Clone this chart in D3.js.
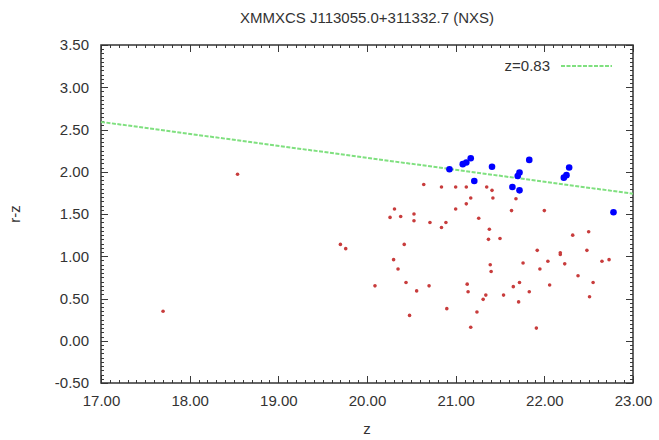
<!DOCTYPE html>
<html>
<head>
<meta charset="utf-8">
<script src="https://cdn.jsdelivr.net/npm/d3@7"></script>
<style>
  body { margin: 0; background: #fff; }
  text { font-family: "Liberation Sans", Arial, sans-serif; fill: #333; }
</style>
</head>
<body>
<div id="chart"></div>
<script>
// chart data
const title = "XMMXCS J113055.0+311332.7 (NXS)"
const xLabel = "z"
const yLabel = "r-z"
const xTicks = [17, 18, 19, 20, 21, 22, 23]
const yTicks = [-0.5, 0, 0.5, 1, 1.5, 2, 2.5, 3, 3.5]

// red sequence model line for z=0.83
const modelLabel = "z=0.83"
const modelZ = [17, 23]
const modelRZ = [2.59, 1.74]

// all galaxies in the field (red)
const fieldZ = [18.54, 17.70, 20.64, 20.84, 21.00, 21.12, 21.35, 21.41, 21.17, 21.42,
  21.68, 21.12, 21.00, 20.31, 20.26, 20.38, 20.53, 20.53, 20.71, 20.89,
  20.84, 21.26, 21.63, 22.00, 19.70, 19.76, 20.42, 20.30, 20.35, 20.09,
  20.44, 20.56, 20.70, 21.13, 21.14, 20.90, 20.48, 21.24, 21.17, 21.38,
  21.37, 21.50, 22.32, 22.50, 21.92, 22.18, 22.18, 22.48, 22.04, 22.23,
  22.65, 22.73, 21.76, 21.39, 21.40, 21.95, 22.38, 22.55, 21.72, 21.65,
  22.06, 21.83, 21.54, 21.34, 21.31, 21.71, 22.51, 21.91]
const fieldRZ = [1.97, 0.35, 1.85, 1.82, 1.82, 1.82, 1.82, 1.78, 1.69, 1.69,
  1.68, 1.62, 1.56, 1.56, 1.46, 1.47, 1.50, 1.42, 1.40, 1.40,
  1.34, 1.45, 1.54, 1.54, 1.14, 1.09, 1.14, 0.96, 0.85, 0.65,
  0.69, 0.59, 0.65, 0.67, 0.58, 0.38, 0.30, 0.34, 0.16, 1.32,
  1.20, 1.21, 1.25, 1.29, 1.07, 1.04, 1.02, 1.07, 0.94, 0.91,
  0.94, 0.96, 0.92, 0.90, 0.82, 0.85, 0.77, 0.69, 0.69, 0.64,
  0.66, 0.58, 0.54, 0.54, 0.49, 0.46, 0.52, 0.15]

// selected members (blue)
const memberZ = [20.93, 21.08, 21.12, 21.17, 21.21, 21.41, 21.83, 21.70, 21.72, 21.64,
  21.72, 22.22, 22.25, 22.28, 22.78]
const memberRZ = [2.03, 2.09, 2.11, 2.16, 1.89, 2.06, 2.14, 1.95, 1.99, 1.82,
  1.78, 1.93, 1.96, 2.05, 1.52]

const width = 659, height = 440
const margin = { top: 45, right: 26, bottom: 57, left: 101 }

const svg = d3.select("#chart").append("svg")
  .attr("width", width)
  .attr("height", height)

const x = d3.scaleLinear().domain([17, 23]).range([margin.left, width - margin.right])
const y = d3.scaleLinear().domain([-0.5, 3.5]).range([height - margin.bottom, margin.top])

// gnuplot style labels use a plain hyphen for the sign
const fmt = d => d3.format(".2f")(d).replace("\u2212", "-")
const xMinor = d3.range(170, 231).map(d => d / 10)
const yMinor = d3.range(-10, 71).map(d => d / 20)

const x0 = x(17), x1 = x(23), y0 = y(-0.5), y1 = y(3.5)

// inward tick marks on all four sides, one rect per mark
function tickRects(values, len, horizontal) {
  const g = svg.append("g").attr("fill", "#3a3a3a")
  values.forEach(v => {
    if (horizontal) {
      const px = Math.round(x(v))
      g.append("rect").attr("x", px).attr("y", y0 - len).attr("width", 1).attr("height", len)
      g.append("rect").attr("x", px).attr("y", y1).attr("width", 1).attr("height", len)
    } else {
      const py = Math.round(y(v))
      g.append("rect").attr("x", x0).attr("y", py).attr("width", len).attr("height", 1)
      g.append("rect").attr("x", x1 - len).attr("y", py).attr("width", len).attr("height", 1)
    }
  })
}
tickRects(xMinor, 3, true)
tickRects(xTicks, 7, true)
tickRects(yMinor, 3, false)
tickRects(yTicks, 7, false)

// tick labels through d3 axes (tick lines hidden)
svg.append("g").attr("transform", `translate(0,${y0})`)
  .call(d3.axisBottom(x).tickValues(xTicks).tickSize(0).tickPadding(12).tickFormat(fmt))
  .call(g => g.select(".domain").remove())
  .selectAll("text").style("font-size", "15px").attr("fill", "#333")
svg.append("g").attr("transform", `translate(${x0},0)`)
  .call(d3.axisLeft(y).tickValues(yTicks).tickSize(0).tickPadding(12).tickFormat(fmt))
  .call(g => g.select(".domain").remove())
  .selectAll("text").style("font-size", "15px").attr("fill", "#333")

// frame
svg.append("rect")
  .attr("x", x0).attr("y", y1)
  .attr("width", x1 - x0).attr("height", y0 - y1)
  .attr("fill", "none").attr("stroke", "#333").attr("stroke-width", 1.5)

// model line
const line = d3.line().x(d => x(d[0])).y(d => y(d[1]))
svg.append("path")
  .datum(d3.zip(modelZ, modelRZ))
  .attr("d", line)
  .attr("fill", "none")
  .attr("stroke", "#7fe07f")
  .attr("stroke-width", 2)
  .attr("stroke-dasharray", "4,1.5")

// field galaxies
svg.append("g").selectAll("circle")
  .data(d3.zip(fieldZ, fieldRZ))
  .join("circle")
    .attr("cx", d => x(d[0]))
    .attr("cy", d => y(d[1]))
    .attr("r", 1.8)
    .attr("fill", "#c83c3c")

// members
svg.append("g").selectAll("circle")
  .data(d3.zip(memberZ, memberRZ))
  .join("circle")
    .attr("cx", d => x(d[0]))
    .attr("cy", d => y(d[1]))
    .attr("r", 3.3)
    .attr("fill", "#0000ff")

// legend
svg.append("text")
  .attr("x", 550).attr("y", 71)
  .attr("text-anchor", "end")
  .style("font-size", "15px")
  .text(modelLabel)
svg.append("line")
  .attr("x1", 561).attr("x2", 612)
  .attr("y1", 66).attr("y2", 66)
  .attr("stroke", "#7fe07f")
  .attr("stroke-width", 2)
  .attr("stroke-dasharray", "4,1.5")

// titles
svg.append("text")
  .attr("x", (x0 + x1) / 2).attr("y", 23)
  .attr("text-anchor", "middle")
  .style("font-size", "15px")
  .text(title)
svg.append("text")
  .attr("x", (x0 + x1) / 2).attr("y", 434)
  .attr("text-anchor", "middle")
  .style("font-size", "15px")
  .text(xLabel)
svg.append("text")
  .attr("transform", `translate(20,${(y0 + y1) / 2}) rotate(-90)`)
  .attr("text-anchor", "middle")
  .style("font-size", "15px")
  .text(yLabel)
</script>
</body>
</html>
